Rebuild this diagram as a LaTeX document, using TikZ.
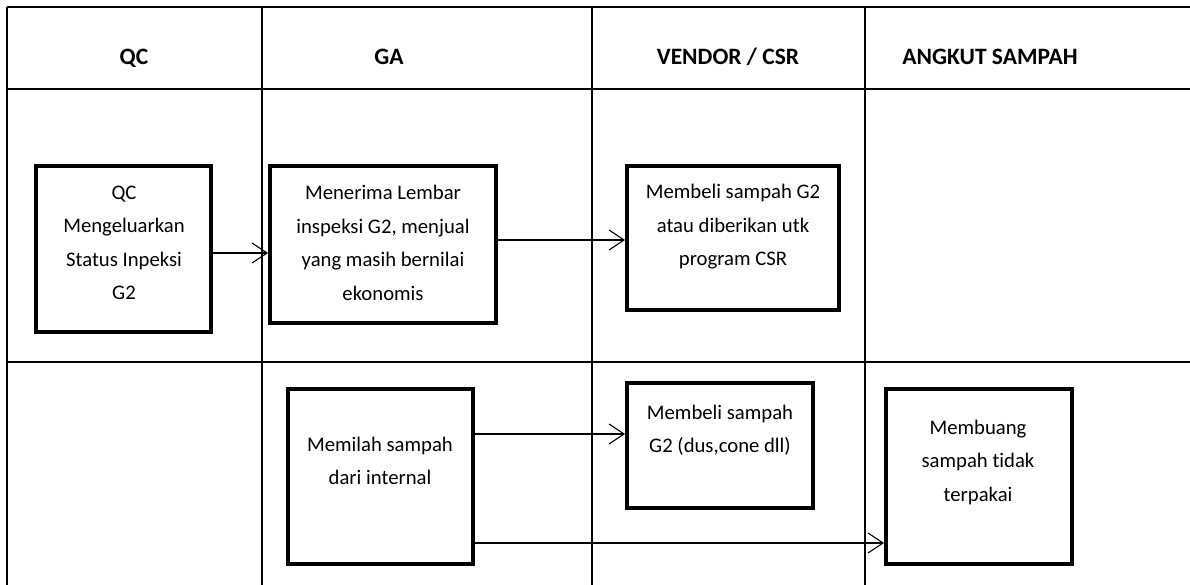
\documentclass[tikz,border=0pt]{standalone}
\usepackage{fontspec}
\setmainfont{Carlito}[Ligatures=NoCommon]
\usetikzlibrary{arrows.meta}
\begin{document}
\begin{tikzpicture}[x=1pt,y=-1pt,
  grid/.style={line width=1.6pt},
  stepbox/.style={draw,line width=4pt,inner sep=0pt,rectangle},
  body/.style={align=center,font=\fontsize{20.7}{33.5}\selectfont,inner sep=0pt},
  head/.style={font=\fontsize{23.5}{27}\selectfont\bfseries,inner sep=0pt,anchor=base},
  arr/.style={line width=1.1pt,-{Straight Barb[length=15pt,width=20pt,line width=1.1pt]}}]
\useasboundingbox (0,0) rectangle (1190,585);
% table grid
\draw[grid] (7,7) -- (1190,7);
\draw[grid] (7,89) -- (1190,89);
\draw[grid] (7,362) -- (1190,362);
\draw[grid] (7,7) -- (7,585);
\draw[grid] (262,7) -- (262,585);
\draw[grid] (592,7) -- (592,585);
\draw[grid] (865,7) -- (865,585);
% headers
\node[head] (h1) at (134,65) {QC};
\node[head] (h2) at (389,65) {GA};
\node[head] (h3) at (728,65) {VENDOR / CSR};
\node[head] (h4) at (990,65) {ANGKUT SAMPAH};
% boxes
\node[stepbox,minimum width=175pt,minimum height=166pt] (b1) at (123.5,249) {};
\node[stepbox,minimum width=226pt,minimum height=157pt] (b2) at (383,244.5) {};
\node[stepbox,minimum width=212pt,minimum height=144pt] (b3) at (733,238) {};
\node[stepbox,minimum width=185pt,minimum height=175pt] (b4) at (380.5,476.5) {};
\node[stepbox,minimum width=186pt,minimum height=125pt] (b5) at (720,445.5) {};
\node[stepbox,minimum width=186pt,minimum height=175pt] (b6) at (979,476.5) {};
% texts
\node[body] (t1) at (124,243) {QC\\Mengeluarkan\\Status Inpeksi\\G2};
\node[body] (t2) at (383,243) {Menerima Lembar\\inspeksi G2, menjual\\yang masih bernilai\\ekonomis};
\node[body] (t3) at (733,227) {Membeli sampah G2\\atau diberikan utk\\program CSR};
\node[body] (t4) at (380,461) {Memilah sampah\\dari internal};
\node[body] (t5) at (720,430) {Membeli sampah\\G2 (dus,cone dll)};
\node[body] (t6) at (978,462) {Membuang\\sampah tidak\\terpakai};
% connectors
\draw[arr] (b1.east |- 0,253) -- (b2.west |- 0,253);
\draw[arr] (b2.east |- 0,240) -- (b3.west |- 0,240);
\draw[arr] (b4.east |- 0,434) -- (b5.west |- 0,434);
\draw[arr] (b4.east |- 0,543) -- (b6.west |- 0,543);
\end{tikzpicture}
\end{document}
